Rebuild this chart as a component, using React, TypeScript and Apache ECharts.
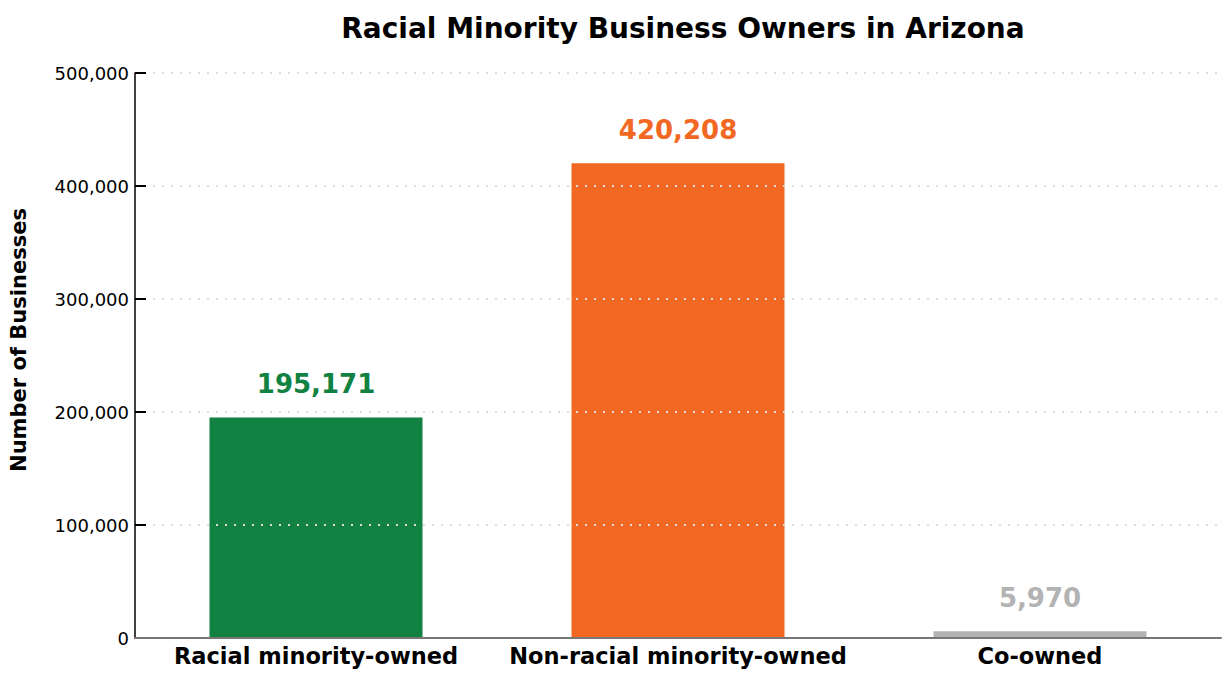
import React, { useEffect, useRef } from "react";
import * as echarts from "echarts";

const categories = ["Racial minority-owned", "Non-racial minority-owned", "Co-owned"];
const values = [195171, 420208, 5970];
const barColors = ["#118241", "#f26722", "#b3b3b3"];
const yTicks = [0, 100000, 200000, 300000, 400000, 500000];
const titleText = "Racial Minority Business Owners in Arizona";
const yAxisTitle = "Number of Businesses";

export default function App() {
  const ref = useRef<HTMLDivElement>(null);
  useEffect(() => {
    if (!ref.current) return;
    document.body.style.margin = "0";
    const chart = echarts.init(ref.current, null, { renderer: "svg" });
    const fmt = (v: number) => v.toLocaleString("en-US");
    chart.setOption({
      animation: false,
      backgroundColor: "#ffffff",
      title: {
        text: titleText,
        left: 678,
        textAlign: "center",
        top: 9,
        textStyle: { fontFamily: "DejaVu Sans", fontWeight: "bold", fontSize: 28, color: "#000" },
      },
      graphic: [
        {
          type: "text",
          x: 19,
          y: 340,
          rotation: Math.PI / 2,
          style: {
            text: yAxisTitle,
            fontFamily: "DejaVu Sans",
            fontWeight: "bold",
            fontSize: 21,
            fill: "#000",
            align: "center",
            verticalAlign: "middle",
          },
        },
      ],
      grid: { left: 135, right: 9, top: 73, bottom: 42, containLabel: false },
      xAxis: {
        type: "category",
        data: categories,
        z: 6,
        axisLine: { lineStyle: { color: "#777", width: 2 } },
        axisTick: { show: false },
        axisLabel: {
          interval: 0,
          margin: 6,
          fontFamily: "DejaVu Sans",
          fontWeight: "bold",
          fontSize: 22.5,
          color: "#000",
        },
      },
      yAxis: {
        type: "value",
        min: yTicks[0],
        max: yTicks[yTicks.length - 1],
        interval: 100000,
        z: 5,
        axisLine: { show: true, lineStyle: { color: "#000", width: 1.5 } },
        axisTick: { show: true, inside: true, length: 11, lineStyle: { color: "#000", width: 2 } },
        axisLabel: {
          margin: 6,
          formatter: (v: number) => fmt(v),
          fontFamily: "DejaVu Sans",
          fontSize: 18,
          color: "#000",
        },
        splitLine: { show: true, lineStyle: { color: "#dcdcdc", type: [2, 7], width: 2 } },
      },
      series: [
        {
          type: "bar",
          barWidth: 213,
          data: values.map((v, i) => ({ value: v, itemStyle: { color: barColors[i] } })),
          label: {
            show: true,
            position: "top",
            distance: 20,
            formatter: (p: any) => fmt(p.value),
            fontFamily: "DejaVu Sans",
            fontWeight: "bold",
            fontSize: 26,
            color: "inherit",
          },
        },
      ],
    });
    return () => chart.dispose();
  }, []);
  return <div ref={ref} style={{ width: 1230, height: 680 }} />;
}
